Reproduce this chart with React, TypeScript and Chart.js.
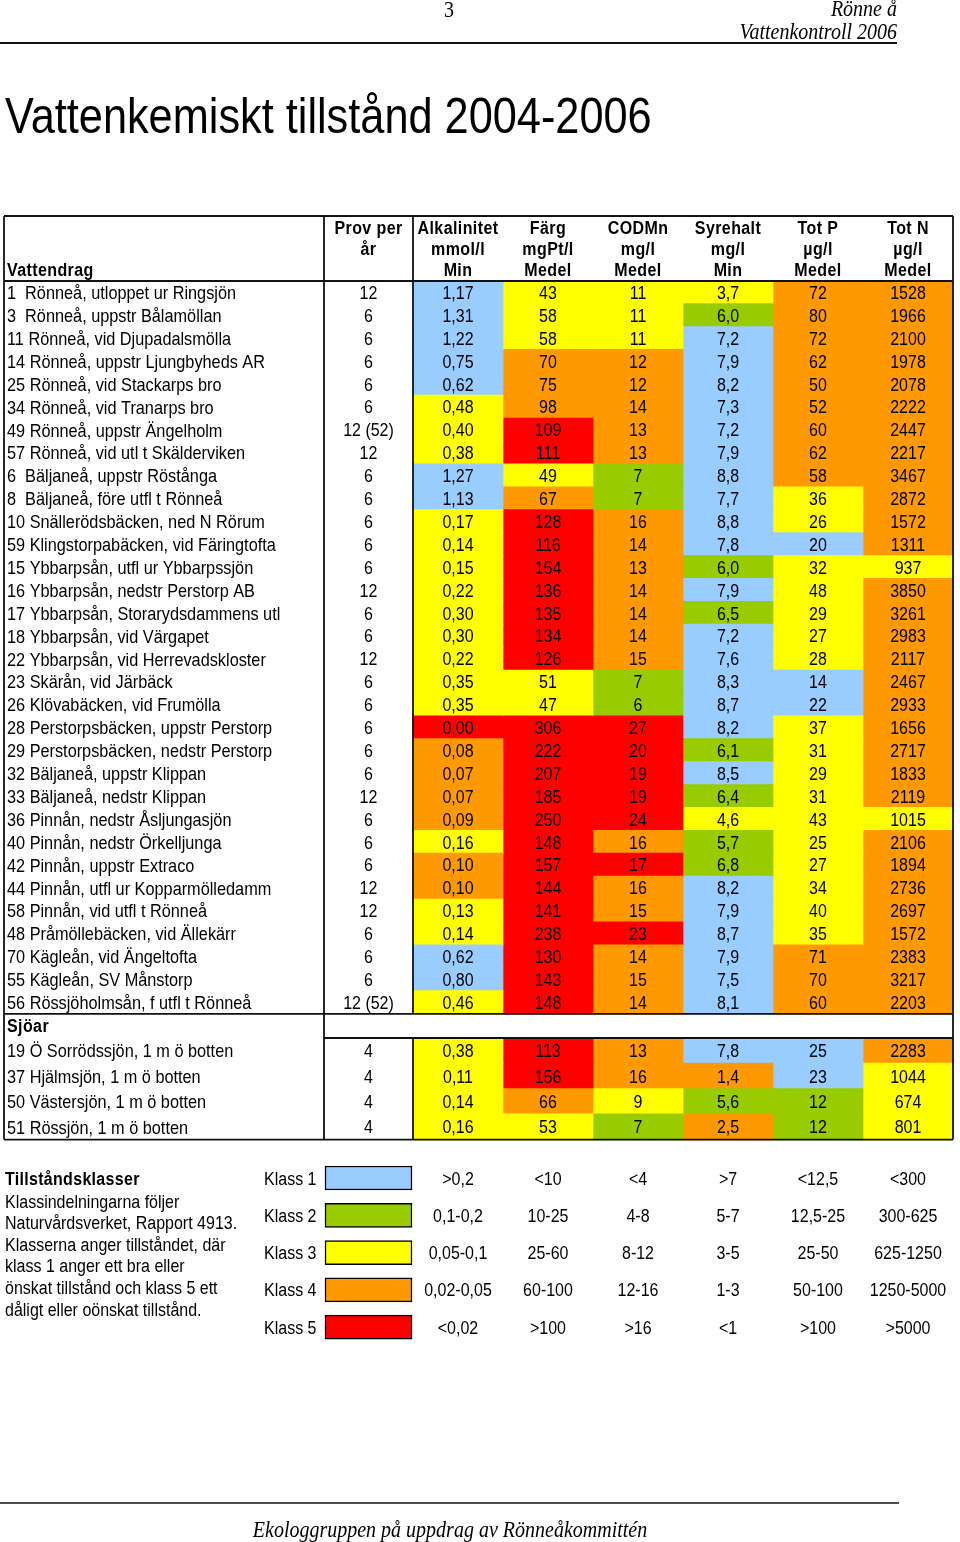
import React, { useEffect, useRef } from 'react';
import { Chart, registerables } from 'chart.js';

Chart.register(...registerables);

// ---------------- DATA ----------------
const stationNames = [
  '1  Rönneå, utloppet ur Ringsjön',
  '3  Rönneå, uppstr Bålamöllan',
  '11 Rönneå, vid Djupadalsmölla',
  '14 Rönneå, uppstr Ljungbyheds AR',
  '25 Rönneå, vid Stackarps bro',
  '34 Rönneå, vid Tranarps bro',
  '49 Rönneå, uppstr Ängelholm',
  '57 Rönneå, vid utl t Skälderviken',
  '6  Bäljaneå, uppstr Röstånga',
  '8  Bäljaneå, före utfl t Rönneå',
  '10 Snällerödsbäcken, ned N Rörum',
  '59 Klingstorpabäcken, vid Färingtofta',
  '15 Ybbarpsån, utfl ur Ybbarpssjön',
  '16 Ybbarpsån, nedstr Perstorp AB',
  '17 Ybbarpsån, Storarydsdammens utl',
  '18 Ybbarpsån, vid Värgapet',
  '22 Ybbarpsån, vid Herrevadskloster',
  '23 Skärån, vid Järbäck',
  '26 Klövabäcken, vid Frumölla',
  '28 Perstorpsbäcken, uppstr Perstorp',
  '29 Perstorpsbäcken, nedstr Perstorp',
  '32 Bäljaneå, uppstr Klippan',
  '33 Bäljaneå, nedstr Klippan',
  '36 Pinnån, nedstr Åsljungasjön',
  '40 Pinnån, nedstr Örkelljunga',
  '42 Pinnån, uppstr Extraco',
  '44 Pinnån, utfl ur Kopparmölledamm',
  '58 Pinnån, vid utfl t Rönneå',
  '48 Pråmöllebäcken, vid Ällekärr',
  '70 Kägleån, vid Ängeltofta',
  '55 Kägleån, SV Månstorp',
  '56 Rössjöholmsån, f utfl t Rönneå',
  '19 Ö Sorrödssjön, 1 m ö botten',
  '37 Hjälmsjön, 1 m ö botten',
  '50 Västersjön, 1 m ö botten',
  '51 Rössjön, 1 m ö botten',
];
const LAKE_START = 32;

const samplesPerYear = [
  '12', '6', '6', '6', '6', '6', '12 (52)', '12', '6', '6', '6', '6', '6', '12', '6', '6',
  '12', '6', '6', '6', '6', '6', '12', '6', '6', '6', '12', '12', '6', '6', '6', '12 (52)',
  '4', '4', '4', '4',
];

const alkalinity = [
  1.17, 1.31, 1.22, 0.75, 0.62, 0.48, 0.40, 0.38, 1.27, 1.13, 0.17, 0.14, 0.15, 0.22, 0.30, 0.30,
  0.22, 0.35, 0.35, 0.00, 0.08, 0.07, 0.07, 0.09, 0.16, 0.10, 0.10, 0.13, 0.14, 0.62, 0.80, 0.46,
  0.38, 0.11, 0.14, 0.16,
];
const alkalinityClass = [
  1, 1, 1, 1, 1, 3, 3, 3, 1, 1, 3, 3, 3, 3, 3, 3, 3, 3, 3, 5, 4, 4, 4, 4, 3, 4, 4, 3, 3, 1, 1, 3,
  3, 3, 3, 3,
];
const colour = [
  43, 58, 58, 70, 75, 98, 109, 111, 49, 67, 128, 116, 154, 136, 135, 134, 126, 51, 47, 306, 222,
  207, 185, 250, 148, 157, 144, 141, 238, 130, 143, 148, 113, 156, 66, 53,
];
const colourClass = [
  3, 3, 3, 4, 4, 4, 5, 5, 3, 4, 5, 5, 5, 5, 5, 5, 5, 3, 3, 5, 5, 5, 5, 5, 5, 5, 5, 5, 5, 5, 5, 5,
  5, 5, 4, 3,
];
const codMn = [
  11, 11, 11, 12, 12, 14, 13, 13, 7, 7, 16, 14, 13, 14, 14, 14, 15, 7, 6, 27, 20, 19, 19, 24, 16,
  17, 16, 15, 23, 14, 15, 14, 13, 16, 9, 7,
];
const codMnClass = [
  3, 3, 3, 4, 4, 4, 4, 4, 2, 2, 4, 4, 4, 4, 4, 4, 4, 2, 2, 5, 5, 5, 5, 5, 4, 5, 4, 4, 5, 4, 4, 4,
  4, 4, 3, 2,
];
const oxygen = [
  3.7, 6.0, 7.2, 7.9, 8.2, 7.3, 7.2, 7.9, 8.8, 7.7, 8.8, 7.8, 6.0, 7.9, 6.5, 7.2, 7.6, 8.3, 8.7,
  8.2, 6.1, 8.5, 6.4, 4.6, 5.7, 6.8, 8.2, 7.9, 8.7, 7.9, 7.5, 8.1, 7.8, 1.4, 5.6, 2.5,
];
const oxygenClass = [
  3, 2, 1, 1, 1, 1, 1, 1, 1, 1, 1, 1, 2, 1, 2, 1, 1, 1, 1, 1, 2, 1, 2, 3, 2, 2, 1, 1, 1, 1, 1, 1,
  1, 4, 2, 4,
];
const totP = [
  72, 80, 72, 62, 50, 52, 60, 62, 58, 36, 26, 20, 32, 48, 29, 27, 28, 14, 22, 37, 31, 29, 31, 43,
  25, 27, 34, 40, 35, 71, 70, 60, 25, 23, 12, 12,
];
const totPClass = [
  4, 4, 4, 4, 4, 4, 4, 4, 4, 3, 3, 1, 3, 3, 3, 3, 3, 1, 1, 3, 3, 3, 3, 3, 3, 3, 3, 3, 3, 4, 4, 4,
  1, 1, 2, 2,
];
const totN = [
  1528, 1966, 2100, 1978, 2078, 2222, 2447, 2217, 3467, 2872, 1572, 1311, 937, 3850, 3261, 2983,
  2117, 2467, 2933, 1656, 2717, 1833, 2119, 1015, 2106, 1894, 2736, 2697, 1572, 2383, 3217, 2203,
  2283, 1044, 674, 801,
];
const totNClass = [
  4, 4, 4, 4, 4, 4, 4, 4, 4, 4, 4, 4, 3, 4, 4, 4, 4, 4, 4, 4, 4, 4, 4, 3, 4, 4, 4, 4, 4, 4, 4, 4,
  4, 3, 3, 3,
];

const headerLines = [
  ['Prov per', 'år', ''],
  ['Alkalinitet', 'mmol/l', 'Min'],
  ['Färg', 'mgPt/l', 'Medel'],
  ['CODMn', 'mg/l', 'Medel'],
  ['Syrehalt', 'mg/l', 'Min'],
  ['Tot P', 'µg/l', 'Medel'],
  ['Tot N', 'µg/l', 'Medel'],
];

const classLabels = ['Klass 1', 'Klass 2', 'Klass 3', 'Klass 4', 'Klass 5'];
const alkalinityRanges = ['>0,2', '0,1-0,2', '0,05-0,1', '0,02-0,05', '<0,02'];
const colourRanges = ['<10', '10-25', '25-60', '60-100', '>100'];
const codMnRanges = ['<4', '4-8', '8-12', '12-16', '>16'];
const oxygenRanges = ['>7', '5-7', '3-5', '1-3', '<1'];
const totPRanges = ['<12,5', '12,5-25', '25-50', '50-100', '>100'];
const totNRanges = ['<300', '300-625', '625-1250', '1250-5000', '>5000'];

const legendText = [
  'Klassindelningarna följer',
  'Naturvårdsverket, Rapport 4913.',
  'Klasserna anger tillståndet, där',
  'klass 1 anger ett bra eller',
  'önskat tillstånd och klass 5 ett',
  'dåligt eller oönskat tillstånd.',
];

// ---------------- STYLE / LAYOUT ----------------
const CLASS_COLORS = ['#99CCFF', '#99CC00', '#FFFF00', '#FF9900', '#FF0000'];
const W = 960;
const H = 1542;
const SY = 1.14;
const SANS = '"Liberation Sans", Arial, sans-serif';
const SERIF = '"Liberation Serif", "Times New Roman", serif';
const colEdges = [4, 324, 413, 503, 593, 683, 773, 863, 953];
const tableTop = 216;
const headerBottom = 281;
const riverPitch = 22.9;
const riverBottom = headerBottom + LAKE_START * riverPitch;
const lakeTop = 1038;
const lakePitch = 25.4;
const tableBottom = lakeTop + (stationNames.length - LAKE_START) * lakePitch;
const legendTop = 1178;
const legendPitch = 37.3;

const valueColumns = [
  { values: alkalinity, classes: alkalinityClass, digits: 2, ranges: alkalinityRanges },
  { values: colour, classes: colourClass, digits: 0, ranges: colourRanges },
  { values: codMn, classes: codMnClass, digits: 0, ranges: codMnRanges },
  { values: oxygen, classes: oxygenClass, digits: 1, ranges: oxygenRanges },
  { values: totP, classes: totPClass, digits: 0, ranges: totPRanges },
  { values: totN, classes: totNClass, digits: 0, ranges: totNRanges },
];

function rowCenter(i: number) {
  if (i < LAKE_START) return headerBottom + (i + 0.5) * riverPitch;
  return lakeTop + (i - LAKE_START + 0.5) * lakePitch;
}
const colCenter = (c: number) => (colEdges[c] + colEdges[c + 1]) / 2;
const range = (a: number, b: number) => Array.from({ length: b - a }, (_, k) => a + k);
const fmt = (v: number, d: number) => v.toFixed(d).replace('.', ',');

function buildDatasets() {
  const ds: any[] = [];
  valueColumns.forEach((col, k) => {
    const x0 = colEdges[k + 2];
    const x1 = colEdges[k + 3];
    const groups: [number, number, number][] = [
      [0, LAKE_START, riverPitch],
      [LAKE_START, stationNames.length, lakePitch],
    ];
    groups.forEach(([a, b, p]) => {
      const idx = range(a, b);
      ds.push({
        data: idx.map((i) => ({ x: [x0, x1], y: rowCenter(i) })),
        backgroundColor: idx.map((i) => CLASS_COLORS[col.classes[i] - 1]),
        borderWidth: 0,
        barThickness: p + 0.6,
        grouped: false,
      });
    });
  });
  ds.push({
    data: classLabels.map((_, k) => ({ x: [325, 412], y: legendTop + k * legendPitch })),
    backgroundColor: CLASS_COLORS,
    borderColor: '#000',
    borderWidth: 1.5,
    borderSkipped: false,
    barThickness: 24,
    grouped: false,
  });
  return ds;
}

type TOpts = {
  size?: number;
  bold?: boolean;
  italic?: boolean;
  align?: CanvasTextAlign;
  family?: string;
  cap?: number;
  ls?: string;
  sy?: number;
};

function drawText(ctx: CanvasRenderingContext2D, s: string, x: number, yc: number, o: TOpts = {}) {
  const size = o.size ?? 16;
  const sy = o.sy ?? SY;
  const cap = o.cap ?? 0.716;
  ctx.save();
  ctx.font = `${o.italic ? 'italic ' : ''}${o.bold ? 'bold ' : ''}${size}px ${o.family ?? SANS}`;
  ctx.textAlign = o.align ?? 'left';
  ctx.textBaseline = 'alphabetic';
  (ctx as any).letterSpacing = o.ls ?? '0px';
  ctx.fillStyle = '#000';
  ctx.translate(x, yc + (cap * size * sy) / 2);
  ctx.scale(1, sy);
  ctx.fillText(s, 0, 0);
  ctx.restore();
}

const tablePlugin = {
  id: 'tableText',
  afterDatasetsDraw(chart: any) {
    const ctx: CanvasRenderingContext2D = chart.ctx;
    const X = (v: number) => chart.scales.x.getPixelForValue(v);
    const Y = (v: number) => chart.scales.y.getPixelForValue(v);
    const line = (x0: number, y0: number, x1: number, y1: number, w = 1.8) => {
      ctx.save();
      ctx.strokeStyle = '#111';
      ctx.lineWidth = w;
      ctx.beginPath();
      ctx.moveTo(X(x0), Y(y0));
      ctx.lineTo(X(x1), Y(y1));
      ctx.stroke();
      ctx.restore();
    };

    // page header
    drawText(ctx, '3', X(449), Y(9), { family: SERIF, size: 20, align: 'center', cap: 0.66 });
    drawText(ctx, 'Rönne å', X(897), Y(8), { family: SERIF, italic: true, size: 20, align: 'right', cap: 0.66 });
    drawText(ctx, 'Vattenkontroll 2006', X(897), Y(31), { family: SERIF, italic: true, size: 20, align: 'right', cap: 0.66 });
    line(0, 43, 897, 43, 2);

    // title
    drawText(ctx, 'Vattenkemiskt tillstånd 2004-2006', X(5), Y(115), { size: 43.3, sy: 1.17 });

    // table frame
    line(colEdges[0], tableTop, colEdges[8], tableTop);
    line(colEdges[0], tableTop, colEdges[0], tableBottom);
    line(colEdges[8], tableTop, colEdges[8], tableBottom);
    line(colEdges[0], tableBottom, colEdges[8], tableBottom);
    line(colEdges[0], headerBottom, colEdges[8], headerBottom);
    line(colEdges[0], riverBottom, colEdges[8], riverBottom);
    line(colEdges[1], lakeTop, colEdges[8], lakeTop);
    line(colEdges[1], tableTop, colEdges[1], tableBottom);
    line(colEdges[2], tableTop, colEdges[2], riverBottom);
    line(colEdges[2], lakeTop, colEdges[2], tableBottom);

    // header
    const hy = [227, 248, 269];
    headerLines.forEach((lines, c) => {
      lines.forEach((t, r) => {
        if (t) drawText(ctx, t, X(colCenter(c + 1)), Y(hy[r]), { bold: true, align: 'center', ls: '0.4px' });
      });
    });
    drawText(ctx, 'Vattendrag', X(7), Y(hy[2]), { bold: true, ls: '0.4px' });

    // rows
    stationNames.forEach((name, i) => {
      const yc = rowCenter(i);
      drawText(ctx, name, X(7), Y(yc), { size: 16.3 });
      drawText(ctx, samplesPerYear[i], X(colCenter(1)), Y(yc), { align: 'center' });
      valueColumns.forEach((col, k) => {
        drawText(ctx, fmt(col.values[i], col.digits), X(colCenter(k + 2)), Y(yc), { align: 'center' });
      });
    });
    drawText(ctx, 'Sjöar', X(7), Y((riverBottom + lakeTop) / 2), { bold: true, ls: '0.4px' });

    // legend
    drawText(ctx, 'Tillståndsklasser', X(5), Y(legendTop), { bold: true, ls: '0.3px' });
    legendText.forEach((t, k) => drawText(ctx, t, X(5), Y(1201 + k * 21.6)));
    classLabels.forEach((lab, k) => {
      const yc = legendTop + k * legendPitch;
      drawText(ctx, lab, X(264), Y(yc));
      valueColumns.forEach((col, c) => {
        drawText(ctx, col.ranges[k], X(colCenter(c + 2)), Y(yc), { align: 'center' });
      });
    });

    // footer
    line(0, 1503, 899, 1503, 1.5);
    drawText(ctx, 'Ekologgruppen på uppdrag av Rönneåkommittén', X(450), Y(1529), {
      family: SERIF, italic: true, size: 20, align: 'center', cap: 0.66,
    });
  },
};

export default function App() {
  const ref = useRef<HTMLCanvasElement | null>(null);
  useEffect(() => {
    if (!ref.current) return;
    const chart = new Chart(ref.current, {
      type: 'bar',
      data: { datasets: buildDatasets() },
      options: {
        animation: false,
        responsive: false,
        devicePixelRatio: 1,
        indexAxis: 'y',
        events: [],
        layout: { padding: 0 },
        plugins: {
          legend: { display: false },
          tooltip: { enabled: false },
          title: { display: false },
        },
        scales: {
          x: { type: 'linear', min: 0, max: W, display: false, offset: false },
          y: { type: 'linear', min: 0, max: H, reverse: true, display: false, offset: false },
        },
      } as any,
      plugins: [tablePlugin],
    });
    return () => chart.destroy();
  }, []);
  return (
    <div style={{ position: 'absolute', left: 0, top: 0, width: W, height: H, background: '#fff' }}>
      <canvas ref={ref} width={W} height={H} style={{ display: 'block', width: W, height: H }} />
    </div>
  );
}
